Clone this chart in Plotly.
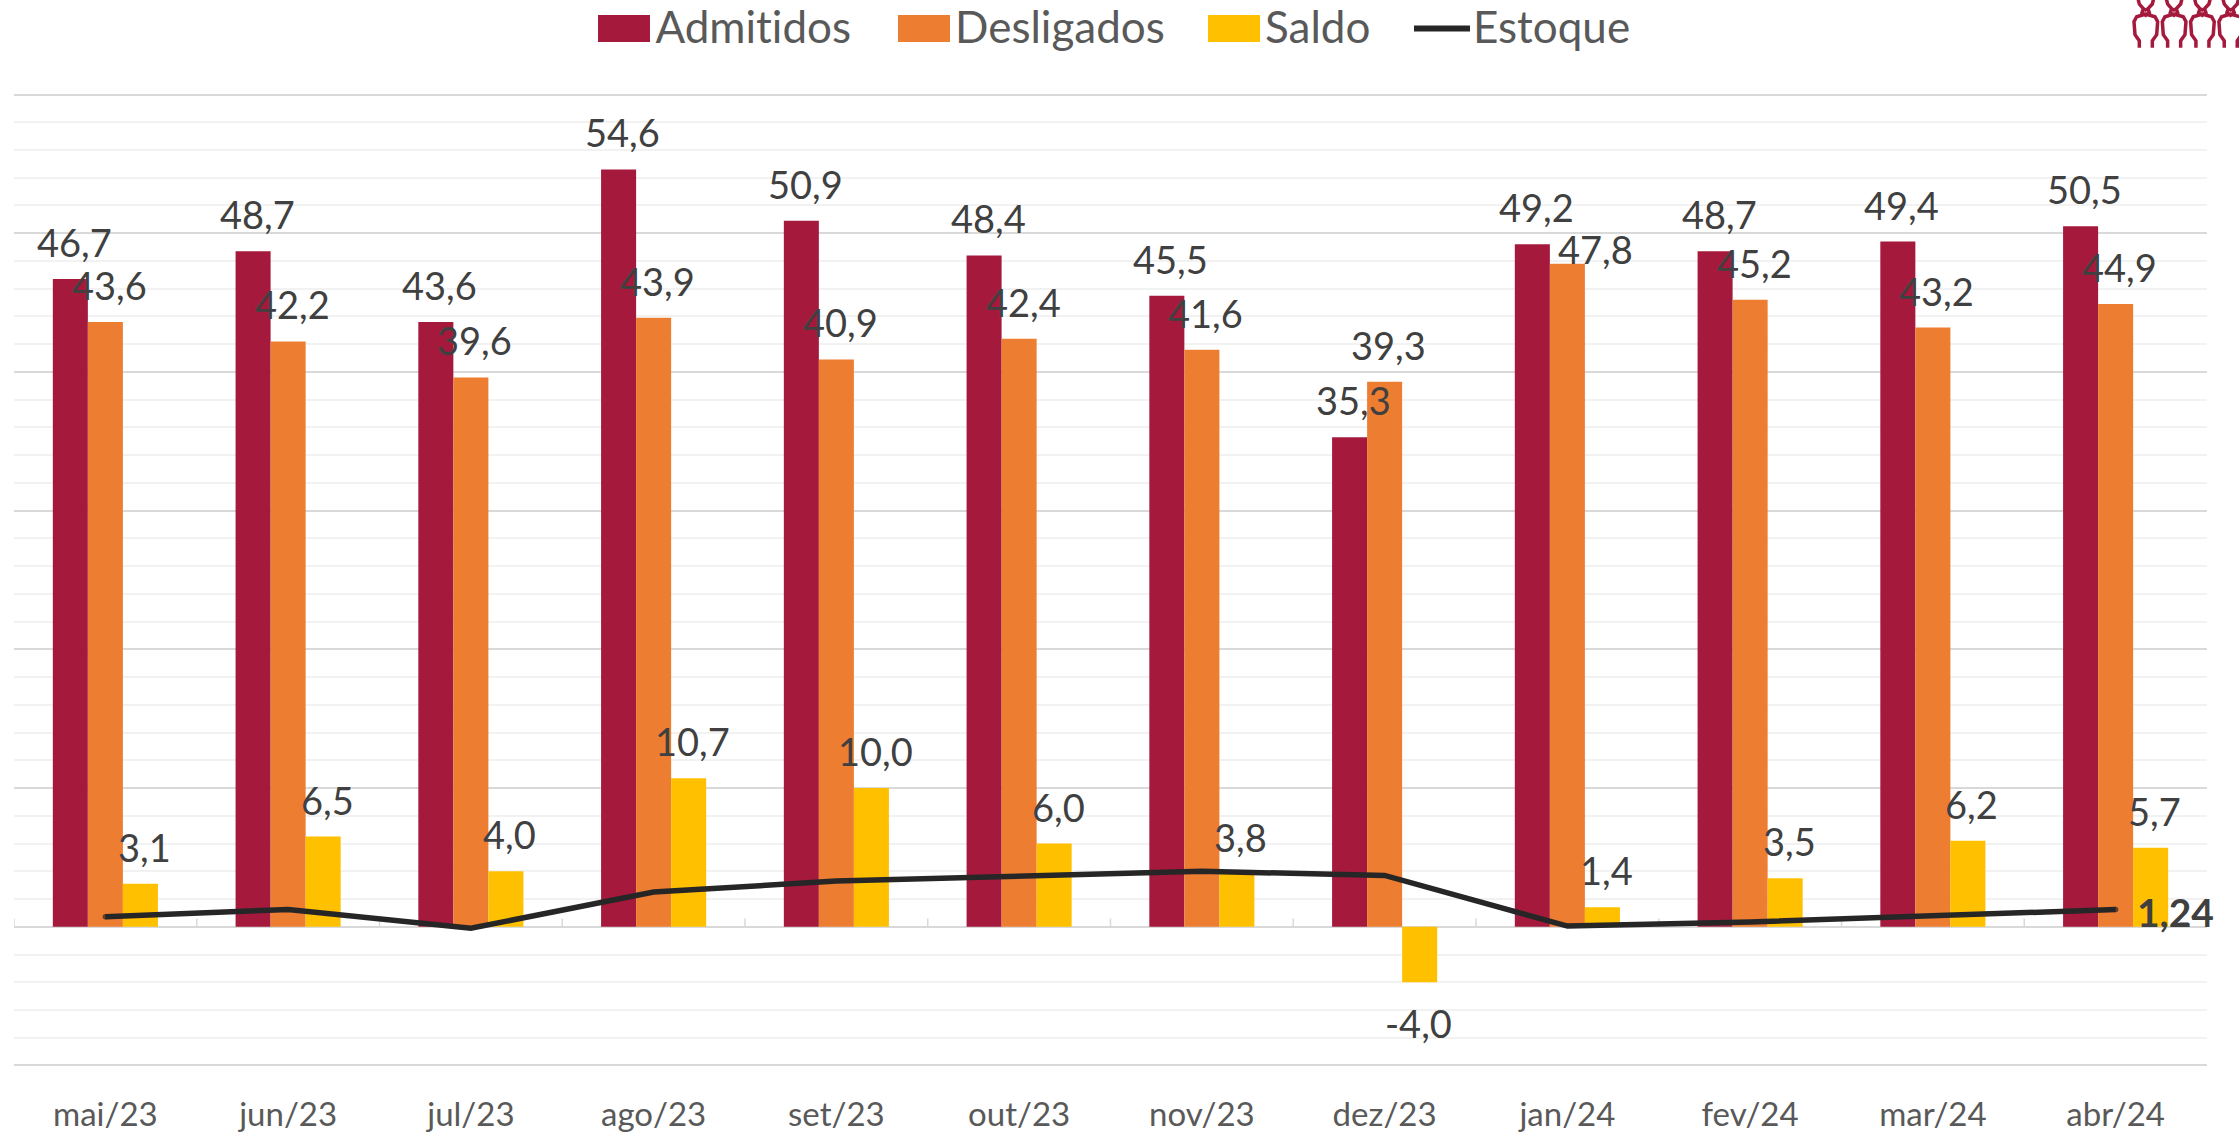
import plotly.graph_objects as go

categorias = ["mai/23","jun/23","jul/23","ago/23","set/23","out/23","nov/23","dez/23","jan/24","fev/24","mar/24","abr/24"]
admitidos = [46.7,48.7,43.6,54.6,50.9,48.4,45.5,35.3,49.2,48.7,49.4,50.5]
desligados = [43.6,42.2,39.6,43.9,40.9,42.4,41.6,39.3,47.8,45.2,43.2,44.9]
saldo = [3.1,6.5,4.0,10.7,10.0,6.0,3.8,-4.0,1.4,3.5,6.2,5.7]
estoque = [0.72,1.25,-0.1,2.5,3.3,3.7,4.0,3.7,0.05,0.35,0.8,1.24]

VERMELHO, LARANJA, AMARELO, PRETO = "#A51A3C", "#ED7D31", "#FFC000", "#262626"
FONT = "Lato"
W, H = 2239, 1132
L, R, T, B = 14, 2207, 93, 1067.5

fig = go.Figure()
for nome, vals, cor in [("Admitidos", admitidos, VERMELHO), ("Desligados", desligados, LARANJA), ("Saldo", saldo, AMARELO)]:
    fig.add_bar(name=nome, x=categorias, y=vals, marker=dict(color=cor, line=dict(width=0)), showlegend=False)
fig.add_scatter(name="Estoque", x=categorias, y=estoque, mode="lines+markers",
                line=dict(color=PRETO, width=5.5),
                marker=dict(color=PRETO, size=[5.5] + [0]*10 + [5.5], line=dict(width=0)), showlegend=False)

def fmt(v):
    return f"{v:.1f}".replace(".", ",")

annotations = []
for off, vals, nome in [(-35, admitidos, "a"), (0, desligados, "d"), (35, saldo, "s")]:
    for i, v in enumerate(vals):
        dx, dy = 4, 37
        if nome == "d" and categorias[i] == "jan/24":
            dx, dy = 28, 15
        if v < 0:
            dx, dy = -1, -41
        annotations.append(dict(x=i, y=v, xref="x", yref="y", text=fmt(v), showarrow=False,
                                xshift=off + dx, yshift=dy,
                                yanchor="middle", xanchor="center",
                                font=dict(family=FONT, size=38, color="#404040")))
annotations.append(dict(x=11, y=estoque[-1], xref="x", yref="y", text="<b>1,24</b>", showarrow=False,
                        xshift=60, yshift=-2, xanchor="center", yanchor="middle",
                        font=dict(family=FONT, size=39, color="#404040")))

shapes = []
for x in [i - 0.5 for i in range(13)]:
    shapes.append(dict(type="line", x0=x, x1=x, xref="x", y0=0, y1=0.6, yref="y",
                       line=dict(color="#D9D9D9", width=1.5), layer="below"))

def px(x): return (x - L) / (R - L)
def py(y): return (B - y) / (B - T)

leg_y = 28.5
for x0, nome, cor in [(598, "Admitidos", VERMELHO), (898, "Desligados", LARANJA), (1208, "Saldo", AMARELO)]:
    shapes.append(dict(type="rect", xref="paper", yref="paper", x0=px(x0), x1=px(x0+52),
                       y0=py(leg_y-13.5), y1=py(leg_y+13.5), fillcolor=cor, line=dict(width=0)))
    annotations.append(dict(xref="paper", yref="paper", x=px(x0+55), y=py(leg_y-2.5), text=nome, showarrow=False,
                            xanchor="left", yanchor="middle", font=dict(family=FONT, size=44, color="#595959")))
shapes.append(dict(type="line", xref="paper", yref="paper", x0=px(1414), x1=px(1470), y0=py(leg_y), y1=py(leg_y),
                   line=dict(color=PRETO, width=6)))
annotations.append(dict(xref="paper", yref="paper", x=px(1471), y=py(leg_y-2.5), text="Estoque", showarrow=False,
                        xanchor="left", yanchor="middle", font=dict(family=FONT, size=44, color="#595959")))

# pictograma de pessoas (cortado pela borda), canto superior direito
def pessoa(x0):
    def p(a, b):
        return f"{px(x0 + a/3):.5f},{py(b/3):.5f}"
    esquerda = [(88, 143), (88, 122), (75, 104), (72, 65), (80, 50), (100, 44), (107, 42)]
    direita = [(114, 44), (135, 50), (143, 65), (140, 104), (127, 122), (127, 143)]
    cabeca = [(84, -4), (88, 12), (100, 26), (107, 30), (114, 26), (127, 12), (131, -4)]
    d = "M" + " L".join(p(*q) for q in esquerda + direita)
    d2 = "M" + " L".join(p(*q) for q in cabeca)
    d3 = "M" + " L".join(p(*q) for q in [(100, 26), (96, 38), (107, 46), (118, 38), (114, 26)])
    return d + " " + d2 + " " + d3

for k in range(5):
    shapes.append(dict(type="path", xref="paper", yref="paper", path=pessoa(2110 + k*28.3),
                       line=dict(color=VERMELHO, width=3.5)))

fig.update_layout(
    width=W, height=H, margin=dict(l=L, r=W-R, t=T, b=H-B, pad=0, autoexpand=False),
    paper_bgcolor="white", plot_bgcolor="white",
    barmode="group", bargap=0.425, bargroupgap=0,
    showlegend=False, annotations=annotations, shapes=shapes,
    xaxis=dict(type="category", range=[-0.5, 11.5], showgrid=False, showline=False, ticks="", automargin=False,
               tickfont=dict(family=FONT, size=33, color="#595959"), ticklabelstandoff=25),
    yaxis=dict(range=[-10.11, 60.11], dtick=10, showticklabels=False, showgrid=True, gridcolor="#D9D9D9", gridwidth=2,
               zeroline=True, zerolinecolor="#D9D9D9", zerolinewidth=2, ticks="", automargin=False,
               minor=dict(dtick=2, showgrid=True, gridcolor="#F2F2F2", gridwidth=2)),
)
post = ("document.body.style.margin='0';document.body.style.overflow='hidden';"
        "var s=document.createElement('style');s.textContent='text{font-variant-ligatures:none;font-feature-settings:\"liga\" 0,\"dlig\" 0}';document.head.appendChild(s);")
fig.write_html("out.html", config=dict(displayModeBar=False), post_script=post)
